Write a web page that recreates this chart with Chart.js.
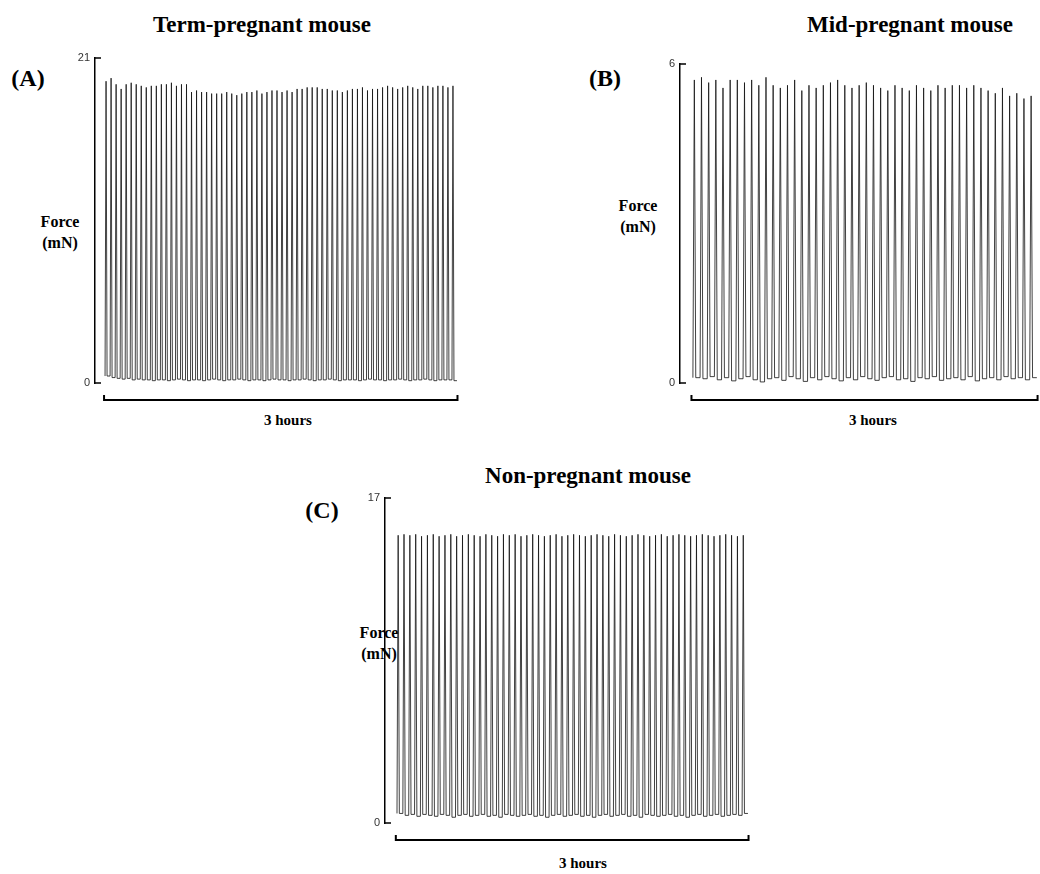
<!DOCTYPE html>
<html>
<head>
<meta charset="utf-8">
<script src="https://cdn.jsdelivr.net/npm/chart.js@4"></script>
<style>
  body { margin: 0; background: #fff; }
  #page { position: relative; width: 1040px; height: 874px; overflow: hidden; }
  canvas { position: absolute; }
  .lbl {
    position: absolute;
    transform: translate(-50%, -50%);
    font-family: "Liberation Serif", "Times New Roman", serif;
    font-weight: bold;
    color: #000;
    white-space: nowrap;
  }
  .title { font-size: 23px; }
  .panel { font-size: 24px; }
  .force { font-size: 16px; text-align: center; line-height: 21px; }
  .hours { font-size: 15px; }
</style>
</head>
<body>
<div id="page">
  <div class="lbl title" style="left:262px;top:25px">Term-pregnant mouse</div>
  <div class="lbl title" style="left:910px;top:25px">Mid-pregnant mouse</div>
  <div class="lbl title" style="left:588px;top:476px">Non-pregnant mouse</div>

  <div class="lbl panel" style="left:28px;top:78px">(A)</div>
  <div class="lbl panel" style="left:605px;top:78px">(B)</div>
  <div class="lbl panel" style="left:322px;top:510px">(C)</div>

  <div class="lbl force" style="left:60px;top:232px">Force<br>(mN)</div>
  <div class="lbl force" style="left:638px;top:216px">Force<br>(mN)</div>
  <div class="lbl force" style="left:379px;top:643px">Force<br>(mN)</div>

  <div class="lbl hours" style="left:288px;top:420px">3 hours</div>
  <div class="lbl hours" style="left:873px;top:420px">3 hours</div>
  <div class="lbl hours" style="left:583px;top:863px">3 hours</div>

  <canvas id="chartA" style="left:40px;top:30px"></canvas>
  <canvas id="chartB" style="left:600px;top:40px"></canvas>
  <canvas id="chartC" style="left:300px;top:480px"></canvas>
</div>

<script>
// axis tops (mN)
const maxA = 21;
const maxB = 6;
const maxC = 17;

// peak force of each contraction (mN)
const peaksA = [
  19.5, 19.7, 19.3, 19.0, 19.3, 19.4, 19.3, 19.2, 19.1, 19.2,
  19.2, 19.3, 19.3, 19.4, 19.2, 19.3, 19.3, 18.8, 18.9, 18.8,
  18.8, 18.7, 18.7, 18.7, 18.8, 18.7, 18.6, 18.7, 18.8, 18.8,
  18.9, 18.7, 18.8, 18.9, 18.9, 18.8, 18.9, 18.8, 19.0, 19.0,
  19.1, 19.1, 19.1, 19.0, 19.0, 18.9, 18.9, 18.8, 18.9, 19.0,
  19.0, 19.1, 18.9, 19.0, 19.0, 19.1, 19.2, 19.1, 19.0, 19.1,
  19.2, 19.1, 19.0, 19.2, 19.2, 19.1, 19.2, 19.2, 19.1, 19.2
];
// resting force after each contraction (mN)
const baseA = [
  0.45, 0.35, 0.3, 0.25, 0.3, 0.2, 0.25, 0.2, 0.2, 0.15,
  0.2, 0.2, 0.15, 0.2, 0.25, 0.2, 0.15, 0.2, 0.2, 0.15,
  0.2, 0.25, 0.2, 0.15, 0.2, 0.2, 0.25, 0.2, 0.15, 0.2,
  0.2, 0.15, 0.2, 0.25, 0.2, 0.2, 0.15, 0.2, 0.2, 0.25,
  0.2, 0.15, 0.2, 0.2, 0.25, 0.2, 0.15, 0.2, 0.2, 0.2,
  0.15, 0.2, 0.25, 0.2, 0.2, 0.15, 0.2, 0.2, 0.25, 0.2,
  0.15, 0.2, 0.2, 0.25, 0.2, 0.15, 0.2, 0.2, 0.2, 0.15
];

const peaksB = [
  5.70, 5.75, 5.65, 5.70, 5.55, 5.70, 5.70, 5.65, 5.70, 5.60,
  5.75, 5.60, 5.55, 5.60, 5.70, 5.50, 5.60, 5.55, 5.60, 5.65,
  5.70, 5.60, 5.55, 5.60, 5.65, 5.60, 5.55, 5.50, 5.60, 5.55,
  5.50, 5.60, 5.55, 5.50, 5.60, 5.55, 5.60, 5.60, 5.55, 5.60,
  5.55, 5.50, 5.45, 5.55, 5.40, 5.45, 5.35, 5.40
];
const baseB = [
  0.10, 0.08, 0.12, 0.06, 0.10, 0.04, 0.08, 0.12, 0.06, 0.02,
  0.08, 0.10, 0.05, 0.12, 0.08, 0.03, 0.10, 0.06, 0.12, 0.08,
  0.04, 0.10, 0.06, 0.12, 0.08, 0.05, 0.10, 0.12, 0.06, 0.08,
  0.03, 0.10, 0.08, 0.12, 0.05, 0.08, 0.10, 0.06, 0.12, 0.04,
  0.08, 0.10, 0.06, 0.12, 0.08, 0.10, 0.06, 0.10
];

const peaksC = [
  15.05, 15.10, 15.05, 15.10, 15.00, 15.05, 15.10, 15.00, 15.05, 15.10,
  15.00, 15.05, 15.10, 15.05, 15.00, 15.10, 15.05, 15.00, 15.10, 15.05,
  15.10, 15.00, 15.05, 15.10, 15.05, 15.00, 15.05, 15.10, 15.00, 15.05,
  15.10, 15.05, 15.00, 15.05, 15.10, 15.05, 15.00, 15.10, 15.05, 15.00,
  15.05, 15.10, 15.05, 15.00, 15.05, 15.10, 15.00, 15.05, 15.10, 15.05,
  15.00, 15.05, 15.10, 15.05, 15.00, 15.05, 15.10, 15.05, 15.00, 15.05
];
const baseC = [
  0.50, 0.40, 0.45, 0.35, 0.45, 0.40, 0.35, 0.45, 0.40, 0.30,
  0.40, 0.45, 0.35, 0.40, 0.45, 0.35, 0.40, 0.30, 0.45, 0.40,
  0.35, 0.40, 0.45, 0.35, 0.40, 0.30, 0.40, 0.45, 0.35, 0.40,
  0.45, 0.35, 0.40, 0.30, 0.40, 0.45, 0.35, 0.40, 0.45, 0.35,
  0.40, 0.30, 0.45, 0.40, 0.35, 0.40, 0.45, 0.35, 0.40, 0.30,
  0.40, 0.45, 0.35, 0.40, 0.45, 0.35, 0.40, 0.45, 0.40, 0.50
];

// one contraction = rest, peak, back to rest (fractions of one cycle)
const RISE = 0.2;
const FALL = 0.4;

function buildTrace(peaks, base) {
  const pts = [];
  for (let i = 0; i < peaks.length; i++) {
    const before = i === 0 ? base[0] : base[i - 1];
    pts.push({ x: i, y: before });
    pts.push({ x: i + RISE, y: peaks[i] });
    pts.push({ x: i + FALL, y: base[i] });
  }
  pts.push({ x: peaks.length, y: base[base.length - 1] });
  return pts;
}

// bracket ticks on the force axis and the "3 hours" bar
const bracketPlugin = {
  id: 'bracket',
  afterDraw(chart) {
    const ctx = chart.ctx;
    const xs = chart.scales.x;
    const ys = chart.scales.y;
    const left = chart.chartArea.left;
    const yTop = ys.getPixelForValue(ys.max);
    const yBot = ys.getPixelForValue(0);
    ctx.save();
    ctx.strokeStyle = '#000';
    ctx.lineWidth = 1.5;
    ctx.beginPath();
    ctx.moveTo(left, yTop); ctx.lineTo(left + 6, yTop);
    ctx.moveTo(left, yBot); ctx.lineTo(left + 6, yBot);
    ctx.stroke();

    const n = chart.data.datasets[0].nCycles;
    const x0 = xs.getPixelForValue(-0.2);
    const x1 = xs.getPixelForValue(n + 0.1);
    const yb = chart.chartArea.bottom + 17;
    ctx.lineWidth = 2;
    ctx.beginPath();
    ctx.moveTo(x0, yb - 5); ctx.lineTo(x0, yb); ctx.lineTo(x1, yb); ctx.lineTo(x1, yb - 5);
    ctx.stroke();
    ctx.restore();
  }
};

function makeChart(id, w, h, peaks, base, yMax, axisWidth, pad, xMin, xMax) {
  const canvas = document.getElementById(id);
  canvas.width = w;
  canvas.height = h;
  canvas.style.width = w + 'px';
  canvas.style.height = h + 'px';
  return new Chart(canvas, {
    type: 'line',
    data: {
      datasets: [{
        data: buildTrace(peaks, base),
        nCycles: peaks.length,
        borderColor: '#111',
        borderWidth: 0.8,
        pointRadius: 0,
        tension: 0,
        fill: false
      }]
    },
    options: {
      responsive: false,
      animation: false,
      events: [],
      layout: { padding: pad },
      plugins: { legend: { display: false }, tooltip: { enabled: false } },
      scales: {
        x: { type: 'linear', min: xMin, max: xMax, display: false },
        y: {
          min: 0,
          max: yMax,
          grid: { display: false, drawTicks: false },
          border: { display: true, color: '#000', width: 1.5 },
          ticks: {
            padding: 5,
            color: '#333',
            font: { family: 'Liberation Sans, Arial, sans-serif', size: 11 }
          },
          afterBuildTicks: (scale) => { scale.ticks = [{ value: 0 }, { value: yMax }]; },
          afterFit: (scale) => { scale.width = axisWidth; }
        }
      }
    },
    plugins: [bracketPlugin]
  });
}

makeChart('chartA', 430, 400, peaksA, baseA, maxA, 55,
  { left: 0, top: 28, right: 10, bottom: 47 }, -2.0, 70.6);
makeChart('chartB', 440, 400, peaksB, baseB, maxB, 80,
  { left: 0, top: 24, right: 1, bottom: 57 }, -1.8, 48.3);
makeChart('chartC', 470, 394, peaksC, baseC, maxC, 85,
  { left: 0, top: 18, right: 20, bottom: 51 }, -2.05, 60.35);
</script>
</body>
</html>
